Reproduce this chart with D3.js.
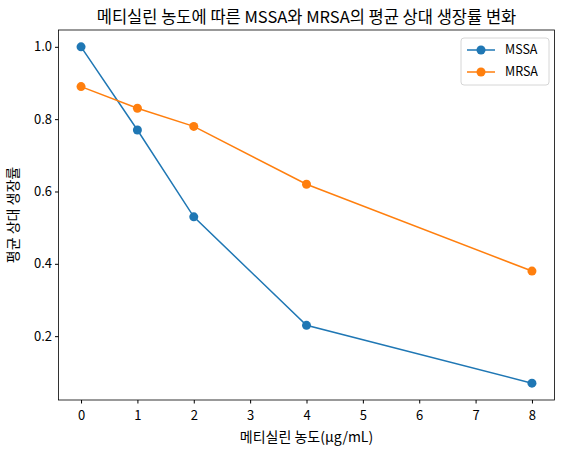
<!DOCTYPE html>
<html><head><meta charset="utf-8">
<script src="https://cdn.jsdelivr.net/npm/d3@7"></script>
<style>body{margin:0;background:#fff}text{font-family:"Noto Sans CJK KR","Noto Sans",sans-serif}</style>
</head><body><svg id="c" width="564" height="455"></svg>
<script>
const concentrations = [0, 1, 2, 4, 8];
const mssa = [1.0, 0.77, 0.53, 0.23, 0.07];
const mrsa = [0.89, 0.83, 0.78, 0.62, 0.38];
const seriesNames = ["MSSA", "MRSA"];
const colors = ["#1f77b4", "#ff7f0e"];
const xTicks = [0, 1, 2, 3, 4, 5, 6, 7, 8];
const yTicks = [0.2, 0.4, 0.6, 0.8, 1.0];

const svg = d3.select("#c");
const L = 58.5, R = 554.5, T = 30, B = 400;
const x = d3.scaleLinear().domain([-0.4, 8.4]).range([L, R]);
const y = d3.scaleLinear().domain([0.0235, 1.0465]).range([B, T]);

const xa = svg.append("g").attr("transform", `translate(0,${B})`)
  .call(d3.axisBottom(x).tickValues(xTicks).tickFormat(d3.format("d")).tickSizeOuter(0).tickSize(3.5));
const ya = svg.append("g").attr("transform", `translate(${L},0)`)
  .call(d3.axisLeft(y).tickValues(yTicks).tickFormat(d3.format(".1f")).tickSizeOuter(0).tickSize(3.5));
[xa, ya].forEach(a => { a.selectAll("text").attr("font-size", 13).attr("fill", "#000"); a.select(".domain").remove(); });
xa.selectAll("text").attr("dy", "1em");
svg.append("rect").attr("x", L).attr("y", T).attr("width", R - L).attr("height", B - T)
  .attr("fill", "none").attr("stroke", "#000").attr("stroke-width", 0.8);

[mssa, mrsa].forEach((vals, i) => {
  const pts = concentrations.map((c, j) => [c, vals[j]]);
  svg.append("path").datum(pts).attr("fill", "none").attr("stroke", colors[i]).attr("stroke-width", 1.5)
    .attr("d", d3.line().x(d => x(d[0])).y(d => y(d[1])));
  svg.selectAll(null).data(pts).join("circle").attr("cx", d => x(d[0])).attr("cy", d => y(d[1]))
    .attr("r", 4.5).attr("fill", colors[i]);
});

svg.append("text").attr("x", (L + R) / 2).attr("y", 23).attr("text-anchor", "middle").attr("font-size", 16.5)
  .text("메티실린 농도에 따른 MSSA와 MRSA의 평균 상대 생장률 변화");
svg.append("text").attr("x", (L + R) / 2).attr("y", 442).attr("text-anchor", "middle").attr("font-size", 14)
  .text("메티실린 농도(μg/mL)");
svg.append("text").attr("transform", `translate(18,${(T + B) / 2}) rotate(-90)`).attr("text-anchor", "middle").attr("font-size", 14)
  .text("평균 상대 생장률");

const lg = svg.append("g").attr("transform", "translate(461,38)");
lg.append("rect").attr("width", 88).attr("height", 47).attr("rx", 3).attr("fill", "#fff")
  .attr("stroke", "#ccc").attr("stroke-width", 0.8);
seriesNames.forEach((n, i) => {
  const yy = 12 + i * 22;
  lg.append("line").attr("x1", 6).attr("x2", 34).attr("y1", yy).attr("y2", yy).attr("stroke", colors[i]).attr("stroke-width", 1.5);
  lg.append("circle").attr("cx", 20).attr("cy", yy).attr("r", 4.5).attr("fill", colors[i]);
  lg.append("text").attr("x", 44).attr("y", yy + 4).attr("font-size", 12.5).text(n);
});
</script></body></html>
